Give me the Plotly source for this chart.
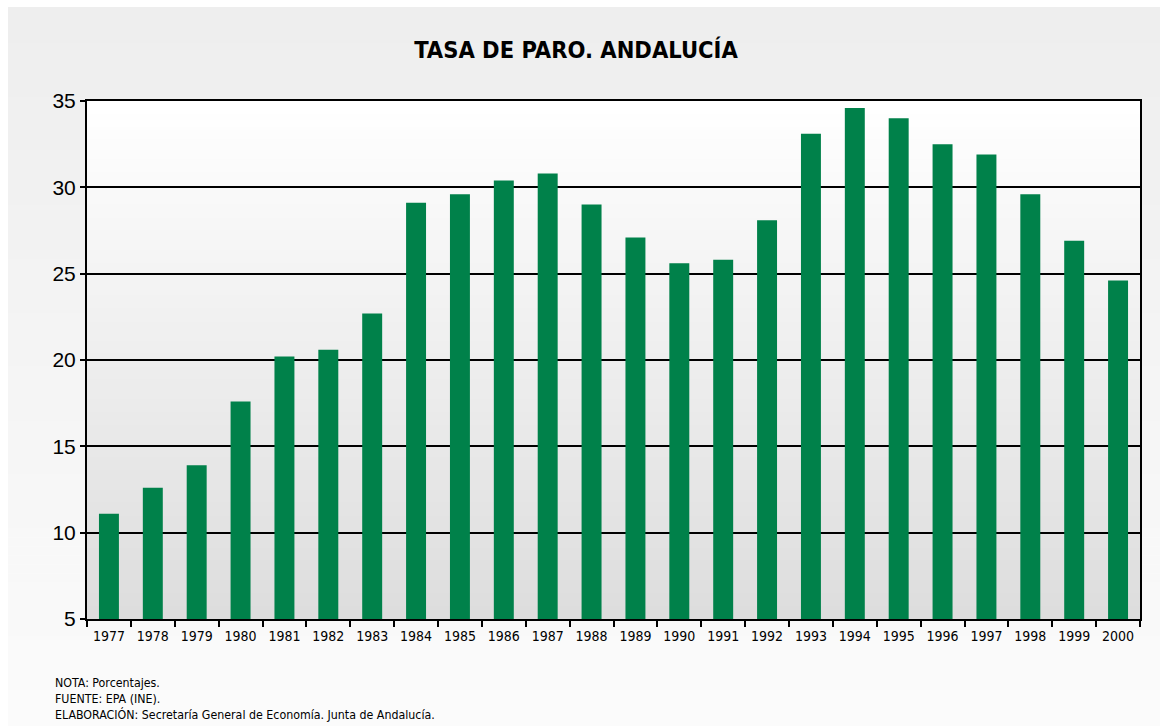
import plotly.graph_objects as go

# Tasa de paro en Andalucía (%), 1977-2000
years = [str(y) for y in range(1977, 2001)]
tasa_paro = [11.1, 12.6, 13.9, 17.6, 20.2, 20.6, 22.7, 29.1, 29.6, 30.4, 30.8, 29.0,
             27.1, 25.6, 25.8, 28.1, 33.1, 34.6, 34.0, 32.5, 31.9, 29.6, 26.9, 24.6]
y_ticks = [5, 10, 15, 20, 25, 30, 35]

title_text = "TASA DE PARO. ANDALUCÍA"
notes = ["NOTA: Porcentajes.",
         "FUENTE: EPA (INE).",
         "ELABORACIÓN: Secretaría General de Economía. Junta de Andalucía."]

W, H = 1168, 726
ML, MR, MT, MB = 87, 28, 101, 107
PW, PH = W - ML - MR, H - MT - MB

NARROW = "DejaVu Sans Condensed, Liberation Sans Narrow, sans-serif"
REGULAR = "Liberation Sans, Arial, sans-serif"


def px_x(px):
    return (px - ML) / PW


def px_y(py):
    return (H - MB - py) / PH


def blend(c0, c1, t):
    return "rgb(%d,%d,%d)" % tuple(round(a + (b - a) * t) for a, b in zip(c0, c1))


shapes = []

# outer panel: soft vertical gradient
n_out = 80
x0o, x1o = px_x(8), px_x(1160)
y_top, y_bot = 7, H
for i in range(n_out):
    t = i / (n_out - 1)
    ya = y_top + (y_bot - y_top) * i / n_out
    yb = y_top + (y_bot - y_top) * (i + 1) / n_out + 0.6
    shapes.append(dict(type="rect", xref="paper", yref="paper",
                       x0=x0o, x1=x1o, y0=px_y(yb), y1=px_y(ya),
                       fillcolor=blend((238, 238, 238), (251, 251, 251), t),
                       line=dict(width=0), layer="below"))

# plot area: white to light grey gradient
n_in = 80
for i in range(n_in):
    t = i / (n_in - 1)
    shapes.append(dict(type="rect", xref="x domain", yref="y domain",
                       x0=0, x1=1, y0=1 - (i + 1) / n_in - 0.002, y1=1 - i / n_in,
                       fillcolor=blend((255, 255, 255), (221, 221, 221), t),
                       line=dict(width=0), layer="below"))

# footnotes, one line each
note_ys = [683, 698.5, 714]
annotations = [dict(text=txt, xref="paper", yref="paper",
                    x=px_x(53), y=px_y(yy), xanchor="left", yanchor="middle",
                    align="left", showarrow=False,
                    font=dict(family=NARROW, size=12.3, color="black"))
               for txt, yy in zip(notes, note_ys)]

fig = go.Figure(go.Bar(
    x=years, y=tasa_paro,
    marker=dict(color="#00814a", line=dict(width=0)),
    hoverinfo="x+y",
))

fig.update_layout(
    width=W, height=H,
    margin=dict(l=ML, r=MR, t=MT, b=MB, pad=0),
    paper_bgcolor="white",
    plot_bgcolor="rgba(0,0,0,0)",
    bargap=0.545,
    showlegend=False,
    shapes=shapes,
    title=dict(text="<b>%s</b>" % title_text, x=576 / W, xanchor="center",
               y=1 - 50 / H, yanchor="middle",
               font=dict(family=NARROW, size=23.5, color="black")),
    annotations=annotations,
)

fig.update_xaxes(
    type="category", tickson="boundaries", ticks="outside", ticklen=6,
    tickwidth=1.5, tickcolor="black", showgrid=False,
    showline=True, linecolor="black", linewidth=2, mirror=True,
    tickangle=0, ticklabelstandoff=3,
    tickfont=dict(family=NARROW, size=14, color="black"),
)
fig.update_yaxes(
    range=[5, 35], tickvals=y_ticks, ticks="outside", ticklen=5,
    tickwidth=1.5, tickcolor="black",
    showgrid=True, gridcolor="black", gridwidth=1.5,
    showline=True, linecolor="black", linewidth=2, mirror=True,
    zeroline=False,
    tickfont=dict(family=REGULAR, size=21, color="black"),
)

fig.write_html("out.html")
